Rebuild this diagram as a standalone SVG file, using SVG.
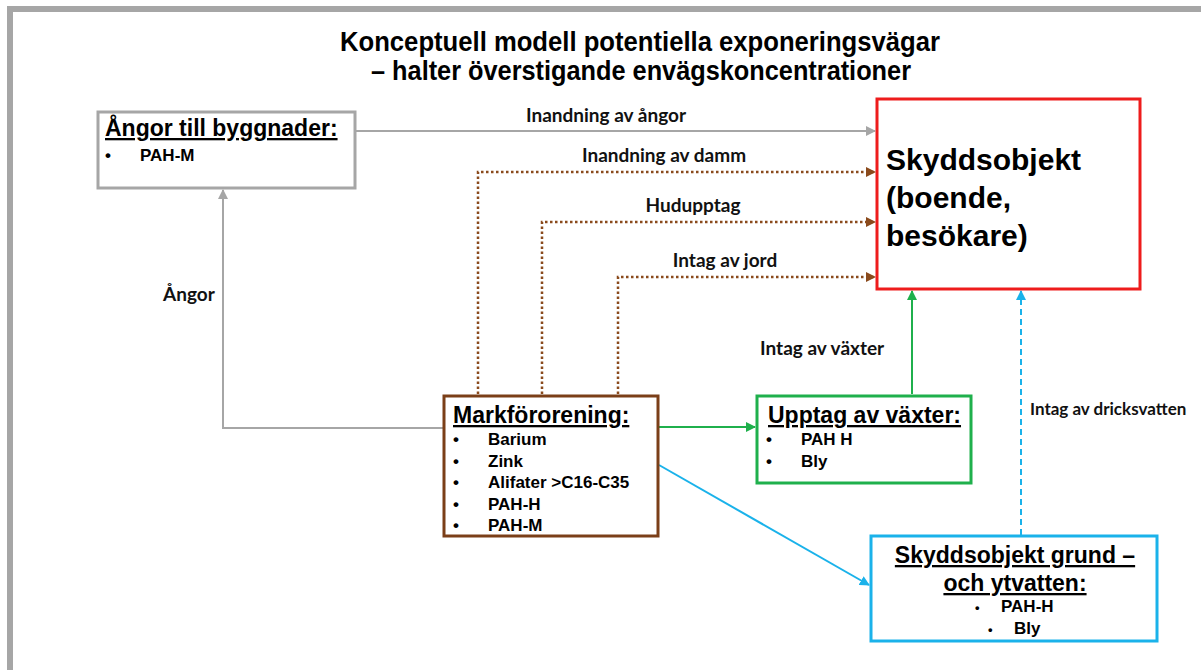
<svg xmlns="http://www.w3.org/2000/svg" width="1201" height="670" viewBox="0 0 1201 670">
<style>
.t{font-family:"Liberation Sans",Arial,sans-serif;font-weight:bold;fill:#000}
.lab{font-family:Lato,"Open Sans",sans-serif;font-weight:bold;font-size:19px;fill:#111}
.hd{font-size:23px;text-decoration:underline}
.bl{font-size:17px}
.box{fill:#fff;stroke-width:3}
.c{fill:none;stroke-width:2}
.d{stroke-width:2.5;stroke-dasharray:2.5,2.5}
</style>
<defs>
<marker id="ag" viewBox="0 0 10 10" refX="9" refY="5" markerWidth="5" markerHeight="5" orient="auto"><path d="M0,0L10,5L0,10z" fill="#a6a6a6"/></marker>
<marker id="ab" viewBox="0 0 10 10" refX="9" refY="5" markerWidth="4" markerHeight="4" orient="auto"><path d="M0,0L10,5L0,10z" fill="#8a4a1c"/></marker>
<marker id="agr" viewBox="0 0 10 10" refX="9" refY="5" markerWidth="5" markerHeight="5" orient="auto"><path d="M0,0L10,5L0,10z" fill="#1fb04c"/></marker>
<marker id="ac" viewBox="0 0 10 10" refX="9" refY="5" markerWidth="5" markerHeight="5" orient="auto"><path d="M0,0L10,5L0,10z" fill="#1ab2ea"/></marker>
</defs>
<rect x="0" y="0" width="1201" height="670" fill="#fff"/>
<rect x="10" y="9" width="1240" height="700" fill="none" stroke="#a6a6a6" stroke-width="6"/>
<g id="title">
<text class="t" x="640" y="51" font-size="27" text-anchor="middle" textLength="600" lengthAdjust="spacingAndGlyphs">Konceptuell modell potentiella exponeringsvägar</text>
<text class="t" x="641" y="80" font-size="27" text-anchor="middle" textLength="540" lengthAdjust="spacingAndGlyphs">– halter överstigande envägskoncentrationer</text>
</g>
<g id="connectors">
<line class="c" x1="355" y1="131" x2="875" y2="131" stroke="#a6a6a6" marker-end="url(#ag)"/>
<polyline class="c" points="443,428 223,428 223,190" stroke="#a6a6a6" marker-end="url(#ag)"/>
<polyline class="c d" points="478,394 478,172 875,172" stroke="#8a4a1c" marker-end="url(#ab)"/>
<polyline class="c d" points="542,394 542,222 875,222" stroke="#8a4a1c" marker-end="url(#ab)"/>
<polyline class="c d" points="618,394 618,277 875,277" stroke="#8a4a1c" marker-end="url(#ab)"/>
<line class="c" x1="659" y1="427" x2="755" y2="427" stroke="#1fb04c" marker-end="url(#agr)"/>
<line class="c" x1="912" y1="394" x2="912" y2="291" stroke="#1fb04c" marker-end="url(#agr)"/>
<line class="c" x1="659" y1="465" x2="869" y2="585" stroke="#1ab2ea" marker-end="url(#ac)"/>
<line class="c" x1="1021" y1="535" x2="1021" y2="291" stroke="#1ab2ea" stroke-dasharray="6,4" marker-end="url(#ac)"/>
<text class="lab" x="606" y="122" text-anchor="middle">Inandning av ångor</text>
<text class="lab" x="664" y="162" text-anchor="middle">Inandning av damm</text>
<text class="lab" x="693" y="212" text-anchor="middle">Hudupptag</text>
<text class="lab" x="725" y="267" text-anchor="middle">Intag av jord</text>
<text class="lab" x="163" y="301">Ångor</text>
<text class="lab" x="760" y="355">Intag av växter</text>
<text class="lab" x="1030" y="415" style="font-size:17px">Intag av dricksvatten</text>
</g>
<g id="angor">
<rect class="box" x="98" y="112" width="257" height="76" stroke="#a6a6a6"/>
<text class="t hd" x="105" y="136">Ångor till byggnader:</text>
<text class="t bl" x="105" y="161">•</text>
<text class="t bl" x="140" y="161">PAH-M</text>
</g>
<g id="skyddsobjekt">
<rect class="box" x="877" y="99" width="263" height="190" stroke="#ee1c1c"/>
<text class="t" x="886" y="170" font-size="30">Skyddsobjekt</text>
<text class="t" x="886" y="208" font-size="30">(boende,</text>
<text class="t" x="886" y="246" font-size="30">besökare)</text>
</g>
<g id="markfororening">
<rect class="box" x="444" y="396" width="214" height="140" stroke="#7b3f18"/>
<text class="t hd" x="453" y="423">Markförorening:</text>
<text class="t bl" x="453" y="445">•</text><text class="t bl" x="488" y="445">Barium</text>
<text class="t bl" x="453" y="467">•</text><text class="t bl" x="488" y="467">Zink</text>
<text class="t bl" x="453" y="488">•</text><text class="t bl" x="488" y="488">Alifater &gt;C16-C35</text>
<text class="t bl" x="453" y="510">•</text><text class="t bl" x="488" y="510">PAH-H</text>
<text class="t bl" x="453" y="531">•</text><text class="t bl" x="488" y="531">PAH-M</text>
</g>
<g id="vaxter">
<rect class="box" x="757" y="396" width="214" height="87" stroke="#1fb04c"/>
<text class="t hd" x="768" y="423">Upptag av växter:</text>
<text class="t bl" x="766" y="445">•</text><text class="t bl" x="801" y="445">PAH H</text>
<text class="t bl" x="766" y="467">•</text><text class="t bl" x="801" y="467">Bly</text>
</g>
<g id="grund">
<rect class="box" x="871" y="536" width="286" height="105" stroke="#1ab2ea"/>
<text class="t hd" x="1015" y="563" text-anchor="middle">Skyddsobjekt grund –</text>
<text class="t hd" x="1015" y="591" text-anchor="middle">och ytvatten:</text>
<text class="t" x="975" y="612" font-size="13">•</text><text class="t bl" x="1001" y="612">PAH-H</text>
<text class="t" x="988" y="634" font-size="13">•</text><text class="t bl" x="1014" y="634">Bly</text>
</g>
</svg>
